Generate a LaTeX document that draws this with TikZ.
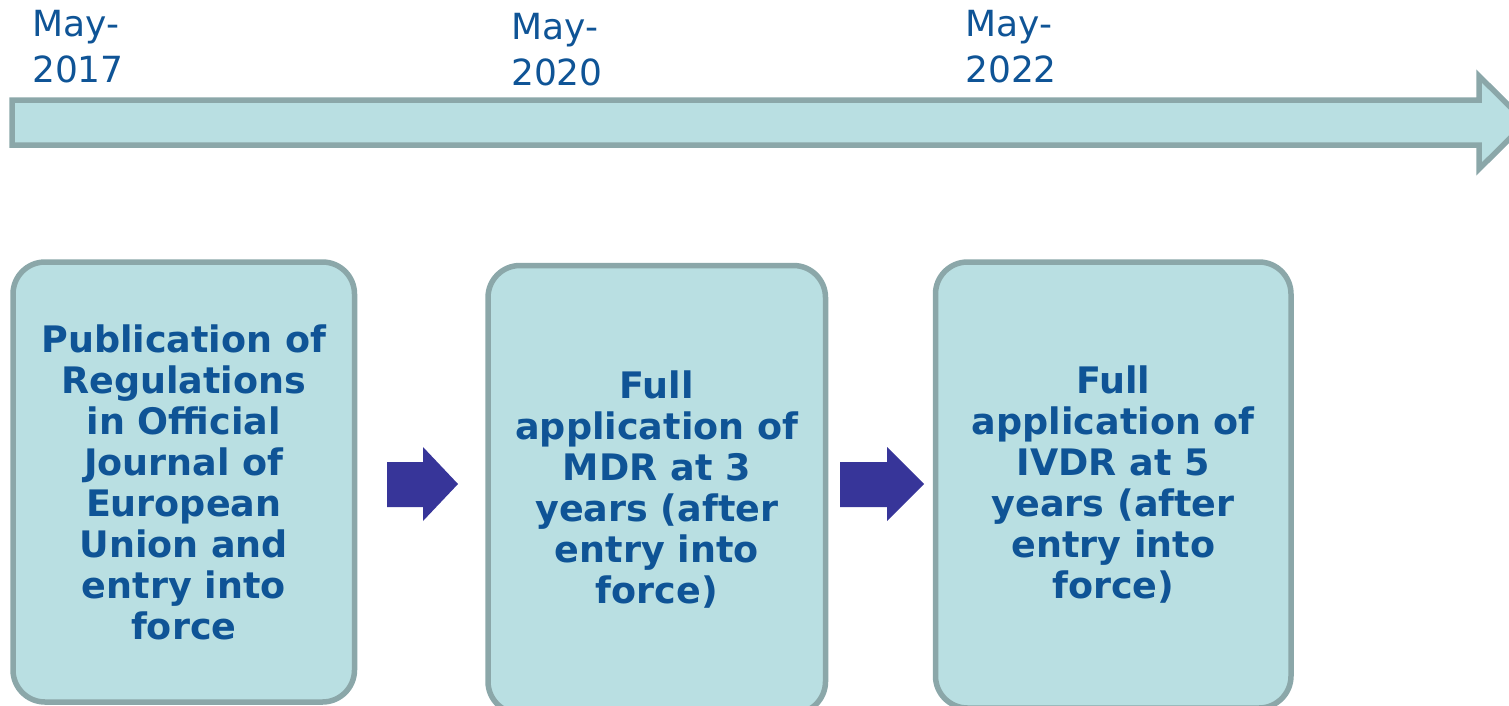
\documentclass[tikz,border=0pt]{standalone}
\usepackage{fontspec}
\setmainfont{DejaVu Sans}
\definecolor{boxfill}{HTML}{B9DFE2}
\definecolor{boxline}{HTML}{8BA7A9}
\definecolor{txt}{HTML}{0F5496}
\definecolor{arr}{HTML}{373599}
\tikzset{
  stage/.style={draw=boxline, fill=boxfill, line width=5.5pt, rounded corners=32pt,
    align=center, text=txt, inner sep=0pt,
    font=\fontsize{36.5}{41}\selectfont\bfseries},
  datelbl/.style={anchor=north west, align=left, text=txt, inner sep=0pt,
    font=\fontsize{36}{46}\selectfont},
  timeline/.style={draw=boxline, fill=boxfill, line width=5.5pt, miter limit=10},
  blockarrow/.style={fill=arr, draw=none}
}
\begin{document}
\begin{tikzpicture}[x=1pt,y=-1pt]
\useasboundingbox (0,0) rectangle (1509,705);
\begin{scope}
\clip (0,0) rectangle (1509,705);
% timeline arrow
\draw[timeline] (12,100) -- (1479,100) -- (1479,76) -- (1526,122.5) -- (1479,169) -- (1479,145) -- (12,145) -- cycle;
% date labels
\node[datelbl] (d1) at (32,10.5) {May-\\2017};
\node[datelbl] (d2) at (511,13) {May-\\2020};
\node[datelbl] (d3) at (965,10.5) {May-\\2022};
% stage boxes
\node[stage, minimum width=341.5pt, minimum height=440pt] (s1) at (183.75,482)
  {Publication of\\Regulations\\in Official\\Journal of\\European\\Union and\\entry into\\force};
\node[stage, minimum width=337.5pt, minimum height=448pt] (s2) at (656.75,489.5)
  {Full\\application of\\MDR at 3\\years (after\\entry into\\force)};
\node[stage, minimum width=355.5pt, minimum height=446pt] (s3) at (1113.25,485)
  {Full\\application of\\IVDR at 5\\years (after\\entry into\\force)};
% block arrows between stages
\fill[blockarrow] (387,462) -- (423,462) -- (423,447) -- (458,484) -- (423,521) -- (423,507) -- (387,507) -- cycle;
\fill[blockarrow] (840,462) -- (887,462) -- (887,447) -- (924,484) -- (887,521) -- (887,507) -- (840,507) -- cycle;
\end{scope}
\end{tikzpicture}
\end{document}
